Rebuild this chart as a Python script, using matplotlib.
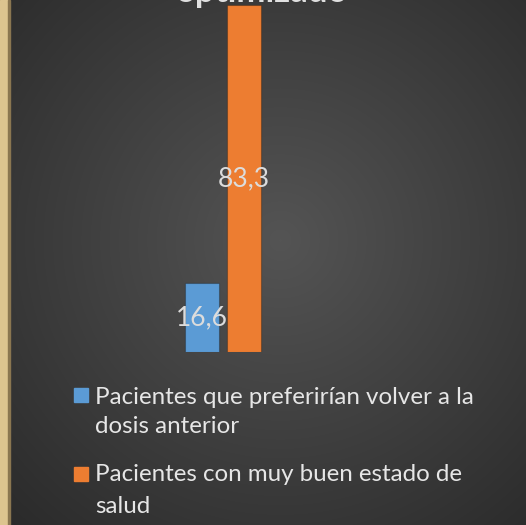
import numpy as np
import matplotlib
matplotlib.use("Agg")
import matplotlib.pyplot as plt
from matplotlib.patches import Rectangle

# ---- data ----
series_names = ["Pacientes que preferirían volver a la dosis anterior",
                "Pacientes con muy buen estado de salud"]
legend_lines = [["Pacientes que preferirían volver a la", "dosis anterior"],
                ["Pacientes con muy buen estado de", "salud"]]
values = [16.6, 83.3]
value_labels = ["16,6", "83,3"]
title_text = "optimizado"

colors = ["#5b9bd5", "#ed7d31"]
FONT = "Lato"
W, H = 526, 525
fig = plt.figure(figsize=(W / 100, H / 100), dpi=100)
fig.patch.set_facecolor("#333333")
renderer = fig.canvas.get_renderer()

# background radial gradient
bg = fig.add_axes([0, 0, 1, 1], zorder=-10)
yy, xx = np.mgrid[0:H, 0:W]
r = np.sqrt(((xx - 280) / 360.0) ** 2 + ((yy - 240) / 360.0) ** 2)
g = np.clip(0.33 - 0.15 * r, 0.16, 0.33)
bg.imshow(np.dstack([g, g, g]), extent=[0, W, H, 0], aspect="auto", interpolation="bilinear")
bg.set_xlim(0, W); bg.set_ylim(H, 0); bg.axis("off")
# left tan strip
bg.add_patch(Rectangle((0, 0), 8, H, color="#dcc48f", zorder=2))
bg.add_patch(Rectangle((8, 0), 1.5, H, color="#8a7650", zorder=2))

# font size fitted so the first legend line is ~380 px wide
t = fig.text(0, 0, legend_lines[0][0], fontsize=20, family=FONT)
wpx = t.get_window_extent(renderer).width
t.remove()
fs = 20 * 380.0 / wpx

# bars
ax = fig.add_axes([100 / W, 173 / H, 246 / W, 347 / H])
ax.set_xlim(-1, 1)
ax.set_ylim(0, 83.3)
ax.axis("off")
ax.patch.set_alpha(0)
offs = [-0.17, 0.17]
for i, (v, c) in enumerate(zip(values, colors)):
    ax.bar(offs[i], v, width=0.27, color=c, edgecolor=(0, 0, 0, 0.25), linewidth=0.8,
           label=series_names[i])

for i, v in enumerate(values):
    ax.text(offs[i], v / 2, value_labels[i], ha="center", va="center", color="#dcdcdc",
            fontsize=fs * 1.1, family=FONT)

# title (cut off at top)
fig.text(262 / W, 1 - 2 / H, title_text, ha="center", va="baseline", fontsize=25,
         fontweight="bold", color="#e0e0e0", family=FONT)

# legend (manual)
baselines = [[404, 433], [481, 513]]
sq_top = [388, 467]
for i in range(2):
    fig.patches.append(Rectangle((74 / W, 1 - (sq_top[i] + 14) / H), 14 / W, 14 / H,
                                 transform=fig.transFigure, color=colors[i],
                                 figure=fig))
    for j, line in enumerate(legend_lines[i]):
        fig.text(95 / W, 1 - baselines[i][j] / H, line, ha="left", va="baseline",
                 fontsize=fs, color="#e6e6e6", family=FONT)

fig.savefig("out.png", dpi=100, facecolor=fig.get_facecolor())
